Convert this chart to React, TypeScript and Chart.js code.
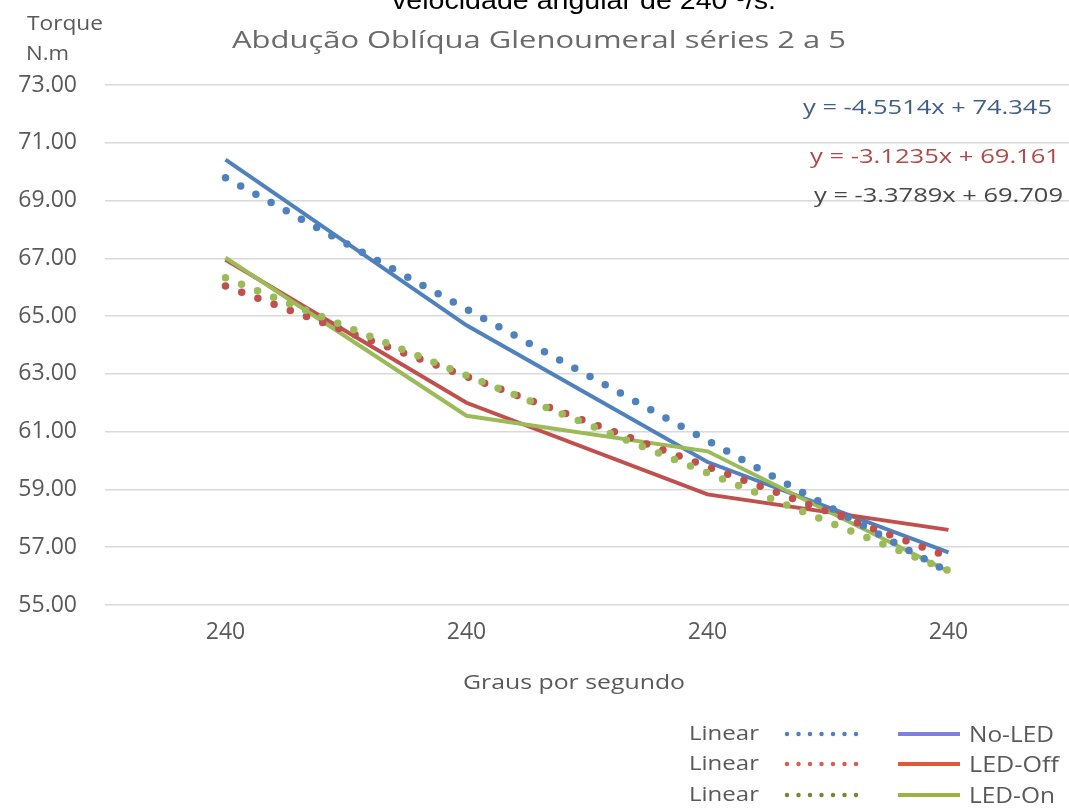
import React, { useEffect, useRef } from "react";
import { Chart, registerables } from "chart.js";

Chart.register(...registerables);

const categories = ["240", "240", "240", "240"];
const noLed = [70.42, 64.68, 59.95, 56.82];
const ledOff = [66.95, 62.0, 58.83, 57.6];
const ledOn = [67.02, 61.55, 60.32, 56.17];
const trendNoLed = [69.79, 65.24, 60.69, 56.14];
const trendLedOff = [66.04, 62.91, 59.79, 56.67];
const trendLedOn = [66.33, 62.95, 59.57, 56.19];
const seriesNames = ["No-LED", "LED-Off", "LED-On"];
const equations = ["y = -4.5514x + 74.345", "y = -3.1235x + 69.161", "y = -3.3789x + 69.709"];
const topTitle = "velocidade angular de 240 º/s.";
const mainTitle = "Abdução Oblíqua Glenoumeral séries 2 a 5";
const yTitle = ["Torque", "N.m"];
const xTitle = "Graus por segundo";
const trendLabel = "Linear";

const BLUE = "#4F81BD";
const RED = "#C0504D";
const GREEN = "#9BBB59";
const TEXT = "#595959";
const FONT = "'Open Sans', 'Noto Sans', sans-serif";

function fitText(ctx: CanvasRenderingContext2D, text: string, left: number, cy: number, width: number) {
  const w = ctx.measureText(text).width;
  ctx.save();
  ctx.translate(left, cy);
  ctx.scale(width / w, 1);
  ctx.textAlign = "left";
  ctx.textBaseline = "middle";
  ctx.fillText(text, 0, 0);
  ctx.restore();
}

const textPlugin = {
  id: "extraText",
  afterDraw(chart: any) {
    const ctx: CanvasRenderingContext2D = chart.ctx;
    ctx.save();
    // cut-off top title
    ctx.fillStyle = "#000000";
    ctx.font = "25px 'Liberation Sans', Arial, sans-serif";
    fitText(ctx, topTitle, 392, 2, 384);
    // main title
    ctx.fillStyle = "#6a6a6a";
    ctx.font = `24px ${FONT}`;
    fitText(ctx, mainTitle, 232, 41, 614);
    // y title
    ctx.fillStyle = TEXT;
    ctx.font = `20px ${FONT}`;
    fitText(ctx, yTitle[0], 27, 24, 76);
    fitText(ctx, yTitle[1], 26, 54, 43);
    // equations
    ctx.font = `20px ${FONT}`;
    ctx.fillStyle = "#3F5E86";
    fitText(ctx, equations[0], 803, 108, 249);
    ctx.fillStyle = "#B04A48";
    fitText(ctx, equations[1], 810, 157, 250);
    ctx.fillStyle = "#474747";
    fitText(ctx, equations[2], 814, 196, 249);
    // x title
    ctx.fillStyle = TEXT;
    ctx.font = `20px ${FONT}`;
    fitText(ctx, xTitle, 463, 683, 222);
    // legend
    const rows = [734, 764, 795];
    const dotColors = [BLUE, "#D55F55", "#6E8A34"];
    const lineColors = ["#7C80E2", "#E0583A", "#9BB245"];
    rows.forEach((cy, i) => {
      ctx.fillStyle = TEXT;
      ctx.font = `20px ${FONT}`;
      fitText(ctx, trendLabel, 689, cy, 70);
      ctx.beginPath();
      ctx.setLineDash([0, 11.5]);
      ctx.lineCap = "round";
      ctx.lineWidth = 4.5;
      ctx.strokeStyle = dotColors[i];
      ctx.moveTo(787, cy);
      ctx.lineTo(857, cy);
      ctx.stroke();
      ctx.setLineDash([]);
      ctx.lineCap = "butt";
      ctx.beginPath();
      ctx.lineWidth = 4;
      ctx.strokeStyle = lineColors[i];
      ctx.moveTo(898, cy);
      ctx.lineTo(960, cy);
      ctx.stroke();
      ctx.fillStyle = TEXT;
      ctx.font = `21px ${FONT}`;
      const w = [85, 90, 86][i];
      fitText(ctx, seriesNames[i], 969, cy + 2, w);
    });
    ctx.restore();
  },
};

export default function App() {
  const ref = useRef<HTMLCanvasElement | null>(null);
  useEffect(() => {
    if (!ref.current) return;
    const solid = (label: string, data: number[], color: string, order: number) => ({
      label,
      data,
      borderColor: color,
      backgroundColor: color,
      borderWidth: 4,
      pointRadius: 0,
      tension: 0,
      order,
    });
    const dotted = (label: string, data: number[], color: string, order: number) => ({
      label,
      data,
      borderColor: color,
      backgroundColor: color,
      borderWidth: 7.5,
      borderDash: [0, 17.3],
      borderCapStyle: "round" as const,
      pointRadius: 0,
      tension: 0,
      order,
    });
    const chart = new Chart(ref.current, {
      type: "line",
      data: {
        labels: categories,
        datasets: [
          solid(seriesNames[0], noLed, BLUE, 6),
          solid(seriesNames[1], ledOff, RED, 5),
          solid(seriesNames[2], ledOn, GREEN, 4),
          dotted(trendLabel + " " + seriesNames[0], trendNoLed, BLUE, 3),
          dotted(trendLabel + " " + seriesNames[1], trendLedOff, RED, 2),
          dotted(trendLabel + " " + seriesNames[2], trendLedOn, GREEN, 1),
        ],
      },
      options: {
        responsive: false,
        animation: false,
        devicePixelRatio: 1,
        layout: { padding: { top: 85, right: 0, left: 0, bottom: 0 } },
        plugins: {
          legend: { display: false },
          title: { display: false },
          tooltip: { enabled: false },
        },
        scales: {
          x: {
            type: "category",
            offset: true,
            grid: { display: false, drawTicks: false },
            border: { display: false },
            ticks: {
              color: TEXT,
              font: { family: FONT, size: 23 },
              padding: 14,
              maxRotation: 0,
              autoSkip: false,
            },
            afterFit: (scale: any) => {
              scale.height = 205;
            },
          },
          y: {
            min: 55,
            max: 73,
            grid: { color: "#D9D9D9", lineWidth: 1.5, drawTicks: false },
            border: { display: false },
            ticks: {
              stepSize: 2,
              color: TEXT,
              font: { family: FONT, size: 23 },
              padding: 28,
              callback: (v: any) => Number(v).toFixed(2),
            },
            afterFit: (scale: any) => {
              scale.width = 105;
            },
          },
        },
      },
      plugins: [textPlugin],
    });
    return () => chart.destroy();
  }, []);
  return (
    <div style={{ position: "fixed", left: 0, top: 0, width: 1069, height: 810, background: "#fff" }}>
      <canvas ref={ref} width={1069} height={810} />
    </div>
  );
}
